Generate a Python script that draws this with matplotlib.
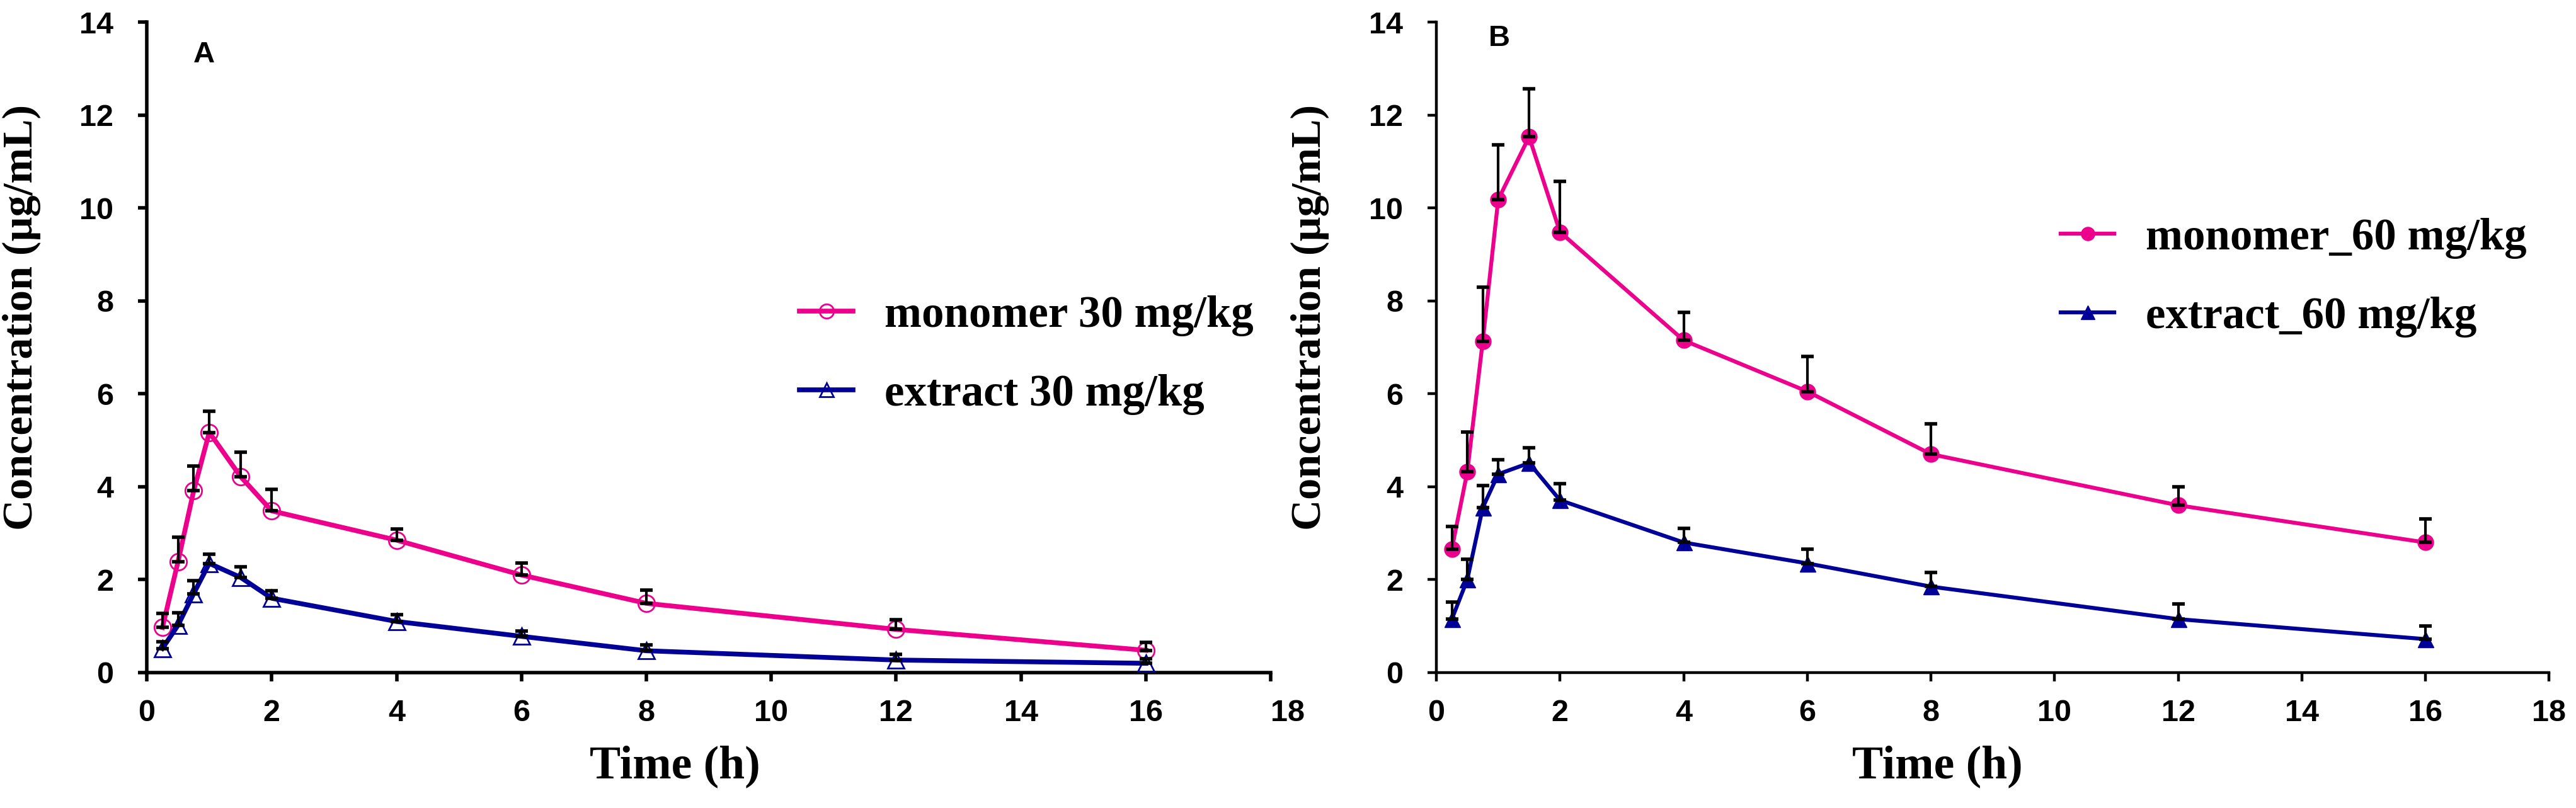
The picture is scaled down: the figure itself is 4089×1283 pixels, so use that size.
import matplotlib
matplotlib.use("Agg")
import matplotlib.pyplot as plt
import numpy as np

# ---------------- data ----------------
time_h = [0.25, 0.5, 0.75, 1, 1.5, 2, 4, 6, 8, 12, 16]

monoA = [0.97, 2.39, 3.91, 5.17, 4.22, 3.48, 2.85, 2.10, 1.49, 0.93, 0.48]
monoA_sd = [0.30, 0.53, 0.53, 0.45, 0.53, 0.46, 0.24, 0.26, 0.29, 0.21, 0.17]
extA = [0.52, 1.02, 1.70, 2.35, 2.05, 1.60, 1.10, 0.78, 0.47, 0.27, 0.20]
extA_sd = [0.15, 0.27, 0.28, 0.20, 0.22, 0.16, 0.15, 0.12, 0.12, 0.12, 0.10]

monoB = [2.66, 4.32, 7.13, 10.18, 11.53, 9.48, 7.15, 6.05, 4.70, 3.60, 2.80]
monoB_sd = [0.48, 0.86, 1.17, 1.18, 1.03, 1.09, 0.60, 0.75, 0.65, 0.40, 0.50]
extB = [1.15, 2.00, 3.55, 4.27, 4.51, 3.71, 2.80, 2.35, 1.85, 1.15, 0.72]
extB_sd = [0.37, 0.44, 0.47, 0.31, 0.33, 0.36, 0.30, 0.30, 0.30, 0.33, 0.28]

labels_A = ["monomer 30 mg/kg", "extract 30 mg/kg"]
labels_B = ["monomer_60 mg/kg", "extract_60 mg/kg"]
panel_tags = ["A", "B"]
xticks = list(range(0, 19, 2))
yticks = list(range(0, 15, 2))

PINK = "#EC008C"
NAVY = "#000099"

fig = plt.figure(figsize=(40.89, 12.83), dpi=100)
axA = fig.add_axes([0.0570, 0.1676, 0.4363, 0.8051])
axB = fig.add_axes([0.5576, 0.1676, 0.4320, 0.8051])

serif = "Liberation Serif"
sans = "Liberation Sans"


def style_axis(ax, spine_lw, last_left):
    ax.set_xlim(0, 18)
    ax.set_ylim(0, 14)
    ax.set_xticks(xticks)
    ax.set_yticks(yticks)
    for s in ["top", "right"]:
        ax.spines[s].set_visible(False)
    for s in ["left", "bottom"]:
        ax.spines[s].set_linewidth(spine_lw)
        ax.spines[s].set_color("black")
    ax.tick_params(axis="both", direction="out", length=10, width=spine_lw,
                   labelsize=35)
    ax.tick_params(axis="y", pad=28)
    ax.tick_params(axis="x", pad=20)
    for lab in ax.get_xticklabels() + ax.get_yticklabels():
        lab.set_fontfamily(sans)
        lab.set_fontweight("bold")
    if last_left:
        ax.get_xticklabels()[-1].set_horizontalalignment("left")
    ax.set_xlabel("Time (h)", fontfamily=serif, fontweight="bold", fontsize=53)
    ax.set_ylabel("Concentration (\u00b5g/mL)", fontfamily=serif,
                  fontweight="bold", fontsize=49)


# ---------------- panel A ----------------
ax = axA
style_axis(ax, 4.0, True)
zero = np.zeros(len(time_h))
ax.errorbar(time_h, monoA, yerr=[zero, monoA_sd], fmt="none", ecolor="black",
            elinewidth=3, capsize=7, capthick=4, zorder=4)
ax.errorbar(time_h, extA, yerr=[zero, extA_sd], fmt="none", ecolor="black",
            elinewidth=3, capsize=7, capthick=4, zorder=4)
ax.plot(time_h, monoA, color=PINK, lw=5.5, marker="o", ms=19, mfc="none",
        mec=PINK, mew=2, label=labels_A[0], zorder=3)
ax.plot(time_h, extA, color=NAVY, lw=5.5, marker="^", ms=19, mfc="none",
        mec=NAVY, mew=2, label=labels_A[1], zorder=3)
ax.text(0.92, 13.3, panel_tags[0], fontfamily=sans, fontweight="bold",
        fontsize=34, ha="center", va="center")
ax.xaxis.set_label_coords(0.47, -0.112)
ax.yaxis.set_label_coords(-0.094, 0.546)
legA = ax.legend(loc="center left", bbox_to_anchor=(0.545, 0.488),
                 frameon=False, handlelength=1.2, handletextpad=0.7,
                 labelspacing=0.85, markerscale=0.85,
                 prop={"family": serif, "weight": "bold", "size": 51})

# ---------------- panel B ----------------
ax = axB
style_axis(ax, 3.2, False)
ax.errorbar(time_h, monoB, yerr=[zero, monoB_sd], fmt="none", ecolor="black",
            elinewidth=3, capsize=7, capthick=4, zorder=4)
ax.errorbar(time_h, extB, yerr=[zero, extB_sd], fmt="none", ecolor="black",
            elinewidth=3, capsize=7, capthick=4, zorder=4)
ax.plot(time_h, monoB, color=PINK, lw=4.5, marker="o", ms=18, mfc=PINK,
        mec=PINK, label=labels_B[0], zorder=3)
ax.plot(time_h, extB, color=NAVY, lw=4.5, marker="^", ms=18, mfc=NAVY,
        mec=NAVY, label=labels_B[1], zorder=3)
ax.text(1.02, 13.65, panel_tags[1], fontfamily=sans, fontweight="bold",
        fontsize=34, ha="center", va="center")
ax.xaxis.set_label_coords(0.45, -0.112)
ax.yaxis.set_label_coords(-0.096, 0.546)
legB = ax.legend(loc="center left", bbox_to_anchor=(0.525, 0.607),
                 frameon=False, handlelength=1.2, handletextpad=0.7,
                 labelspacing=0.85, markerscale=0.85,
                 prop={"family": serif, "weight": "bold", "size": 51})

fig.savefig("out.png", dpi=100)
